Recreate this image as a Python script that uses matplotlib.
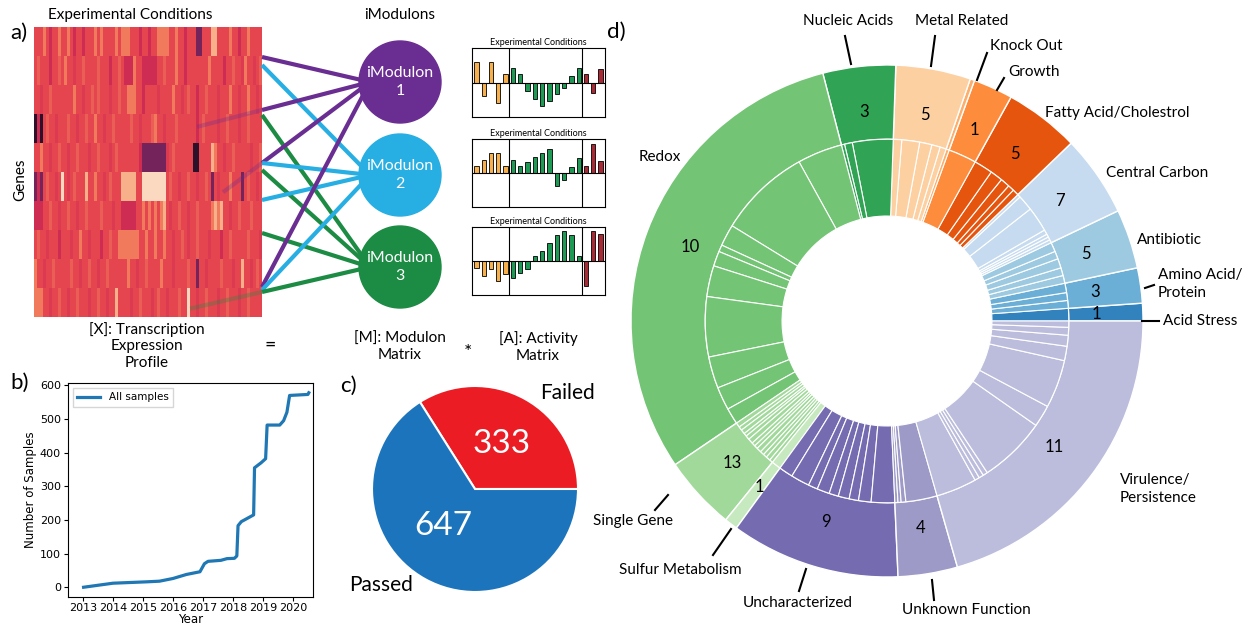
import numpy as np
import matplotlib
matplotlib.use('Agg')
import matplotlib.pyplot as plt
from matplotlib.colors import LinearSegmentedColormap
from matplotlib.patches import Circle

W, H = 1255, 627
plt.rcParams['font.family'] = ['Lato', 'DejaVu Sans']

# ---------------- data ----------------
# a) expression heatmap, one string per gene band, one char per condition column
heat_rows = [
    "rrrorcrror" + "rorcrrcrrr" + "ororrrroro" + "oorrrcrrcr" + "roooorrorr" + "crrrpprrrl" + "lrrrrorrcr" + "rorrrr",
    "rhrrrcrrhr" + "orrdrrhrrr" + "rhrrrcrrhr" + "cccorrcccc" + "crrhrrrorr" + "crrrrrrror" + "rrrcrrhrrd" + "orrdrh",
    "rrdrrhrrrr" + "rrrorrdrrh" + "rhrrrdrrhr" + "rooorrcrrr" + "rdrrrrorrd" + "rhrrcrrhrr" + "rdrrrorrdr" + "rorrdr",
    "kckrhrrdrr" + "rhrrdrrhrr" + "orrdrrhrrr" + "rrhrrdrrrh" + "orrdrrrhrr" + "rrrrcrhrrr" + "rdrrhrrrdr" + "rhrrrr",
    "rrorrdrrhr" + "rdrrhrrrdr" + "rhrrrdrhrr" + "rrrrrcpppp" + "ppppdrhrrr" + "rrrkkrrrrl" + "orrdrrhrrr" + "rrdrrh",
    "pcprhrrdrw" + "rdrhrrrlrr" + "orrdrhrrrl" + "llllrrwwww" + "wwwwrhrrdr" + "rhrrdrrhrp" + "rdrrrorrrp" + "rhrrdr",
    "cccrrhrrdr" + "rhrrdrrhrr" + "rrhrrrdrrc" + "ccccrroror" + "orolrdrrhr" + "rdrrhrrrro" + "lolrrdrrhr" + "rrhrrr",
    "rhrrdrrrcr" + "rrdrrorrdr" + "rrcrrhrroo" + "ooooorrorr" + "orrorrdrrh" + "rdrrhrrrdr" + "rrcrrhrrrr" + "rhrrrd",
    "orrdrrhrrr" + "rrhrrdrrhr" + "rdrrhrrrrr" + "rorrdrrhrr" + "rrorrrdrrr" + "rhrrprrdrr" + "rrhrrrdrrl" + "rrdrhr",
    "ooorrdrrhr" + "rdrrhrrrdr" + "rhrrdrrlrr" + "rrdrrhrrrd" + "rhrrdrrrhr" + "rwrrdrrhrr" + "rdrrhrrrdr" + "rhrrrr",
]
heat_levels = {'k': 0.02, 'p': 0.2, 'c': 0.42, 'd': 0.49, 'r': 0.55, 'h': 0.62, 'o': 0.7, 'l': 0.85, 'w': 0.97}

# a) gene -> iModulon links (y at heatmap edge, iModulon index, x where faint part starts)
links = [(57, 0, 262), (65, 1, 262), (110, 0, 197), (115, 2, 262), (163, 0, 223), (163, 1, 262),
         (170, 2, 262), (200, 1, 262), (233, 2, 262), (287, 0, 262), (290, 1, 262), (292, 2, 190)]
imod_names = ['iModulon\n1', 'iModulon\n2', 'iModulon\n3']

# a) activity matrix bars (5 / 10 / 3 conditions per group)
group_sizes = [5, 10, 3]
act_1 = [60, -40, 60, -60, 25, 45, 25, -25, -50, -70, -55, -35, -15, 20, 45, 25, -30, 40]
act_2 = [22, 40, 62, 62, 22, 40, 22, 35, 50, 62, 72, -40, -20, 20, 45, 22, 88, 38]
act_3 = [-20, -45, -25, -60, -40, -50, -35, -25, 15, 30, 55, 80, 92, 78, 15, -75, 92, 82]

# b) cumulative samples
years = [2013.02, 2014.0, 2015.1, 2015.55, 2016.0, 2016.45, 2016.9, 2017.05, 2017.17, 2017.6, 2017.8,
         2018.05, 2018.13, 2018.17, 2018.28, 2018.69, 2018.72, 2018.94, 2019.09, 2019.14, 2019.56,
         2019.69, 2019.8, 2019.89, 2020.5, 2020.53]
samples = [0, 12, 16, 18, 26, 38, 46, 70, 77, 80, 85, 86, 93, 183, 195, 215, 355, 370, 382, 482, 482,
           495, 520, 570, 573, 578]

# c) QC
qc_labels = ['Failed', 'Passed']
qc_counts = [333, 647]

# d) iModulon categories (counter-clockwise from 3 o'clock)
categories = ['Acid Stress', 'Amino Acid/\nProtein', 'Antibiotic', 'Central Carbon', 'Fatty Acid/Cholestrol',
              'Growth', 'Knock Out', 'Metal Related', 'Nucleic Acids', 'Redox', 'Single Gene',
              'Sulfur Metabolism', 'Uncharacterized', 'Unknown Function', 'Virulence/\nPersistence']
cat_counts = [1, 3, 5, 7, 5, 1, 1, 5, 3, 10, 13, 1, 9, 4, 11]
imod_sizes = [
    [4],
    [2.5, 2.5, 3],
    [2.5, 2.5, 3, 2.5, 3],
    [1, 1, 1, 1.5, 8, 5, 1],
    [2, 2, 3, 4, 6],
    [9],
    [1],
    [2, 2.7, 3.9, 5.7, 2.7],
    [13, 2.5, 1],
    [14.4, 29.5, 6.9, 2.2, 4.8, 9.9, 19.2, 10.1, 7.4, 5.2],
    [1.5, 1.2, 1.4, 1.0, 1.3, 1.6, 1.2, 1.1, 1.5, 1.3, 1.2, 1.4, 1.1],
    [3],
    [4.5, 6, 3, 4, 3, 3.5, 3, 4, 7.5],
    [1, 1, 1.5, 10],
    [13, 1.5, 1.5, 1.5, 21.5, 7, 15.4, 4.6, 3.5, 2.5, 2],
]


def rect(x0, y0, x1, y1):
    return [x0 / W, 1 - y1 / H, (x1 - x0) / W, (y1 - y0) / H]


fig = plt.figure(figsize=(W / 100, H / 100), dpi=100)

# overlay in pixel coords for schematic + labels
ov = fig.add_axes([0, 0, 1, 1], zorder=10)
ov.set_xlim(0, W)
ov.set_ylim(H, 0)
ov.axis('off')

# ---------------- a) ----------------
ax_h = fig.add_axes(rect(34, 27, 262, 317))
heat = np.array([[heat_levels[ch] for ch in row] for row in heat_rows])
heat_cmap = LinearSegmentedColormap.from_list('expr', [(0, '#241024'), (0.2, '#74245a'), (0.42, '#cf2d52'),
                                                      (0.55, '#e6464f'), (0.7, '#f27a5c'), (0.85, '#f7b08a'),
                                                      (1, '#fce3cd')])
ax_h.imshow(heat, aspect='auto', cmap=heat_cmap, vmin=0, vmax=1, interpolation='nearest')
ax_h.axis('off')

mod_cols = ['#6a2d91', '#27aee3', '#1c8b43']
mod_x, mod_r = 400, 41
mod_y = [82, 175, 267]
for y, m, sx in links:
    tx, ty = mod_x - 30, mod_y[m]
    slope = (ty - y) / (tx - 262)
    ov.plot([262, tx], [y, ty], color=mod_cols[m], lw=3, solid_capstyle='butt', zorder=2)
    if sx < 262:
        ov.plot([sx, 262], [y - slope * (262 - sx), y], color=mod_cols[m], lw=3, alpha=0.3,
                solid_capstyle='butt', zorder=2)
for m in range(3):
    ov.add_patch(Circle((mod_x, mod_y[m]), mod_r, color=mod_cols[m], zorder=3))
    ov.text(mod_x, mod_y[m], imod_names[m], color='white', ha='center', va='center', fontsize=11.5,
            linespacing=1.3, zorder=4)

ov.text(130, 15, 'Experimental Conditions', ha='center', va='center', fontsize=11)
ov.text(400, 15, 'iModulons', ha='center', va='center', fontsize=11)
ov.text(20, 180, 'Genes', ha='center', va='center', rotation=90, fontsize=11)
ov.text(10, 33, 'a)', ha='left', va='center', fontsize=16)
ov.text(147, 346, '[X]: Transcription\nExpression\nProfile', ha='center', va='center', fontsize=11,
        linespacing=1.2)
ov.text(270, 345, '=', ha='center', va='center', fontsize=14)
ov.text(400, 347, '[M]: Modulon\nMatrix', ha='center', va='center', fontsize=11, linespacing=1.2)
ov.text(468, 352, '*', ha='center', va='center', fontsize=14)
ov.text(538, 347, '[A]: Activity\nMatrix', ha='center', va='center', fontsize=11, linespacing=1.2)

grp_cols = ['#f7b04c', '#1f9a55', '#a82a35']
bar_cols = [c for c, n in zip(grp_cols, group_sizes) for _ in range(n)]
bounds = np.cumsum(group_sizes)[:-1] - 0.5
for vals, (y0, y1) in zip([act_1, act_2, act_3], [(48, 117), (139, 207), (227, 295)]):
    ab = fig.add_axes(rect(472, y0, 605, y1))
    ab.bar(np.arange(len(vals)), vals, width=0.6, color=bar_cols, edgecolor='black', linewidth=0.6)
    ab.axhline(0, color='black', lw=0.8)
    for b in bounds:
        ab.axvline(b, color='black', lw=0.8)
    ab.set_xlim(-0.6, len(vals) - 0.4)
    ab.set_ylim(-102, 103)
    ab.set_xticks([])
    ab.set_yticks([])
    for s in ab.spines.values():
        s.set_linewidth(0.8)
    ab.set_title('Experimental Conditions', fontsize=6.5, pad=2)

# ---------------- b) ----------------
ax_b = fig.add_axes(rect(68, 383, 313, 597))
ax_b.plot(years, samples, color='#1f77b4', lw=2.3, label='All samples')
ax_b.set_xlim(2012.5, 2020.67)
ax_b.set_ylim(-29, 607)
ax_b.set_xticks(range(2013, 2021))
ax_b.set_yticks(range(0, 601, 100))
ax_b.tick_params(labelsize=8, labelfontfamily='DejaVu Sans', length=3, pad=2)
ax_b.tick_params(axis='x', pad=1.5)
ax_b.set_xlabel('Year', family='DejaVu Sans', fontsize=8.5, labelpad=0)
ax_b.set_ylabel('Number of Samples', family='DejaVu Sans', fontsize=8.5, labelpad=2)
ax_b.legend(loc='upper left', prop={'family': 'DejaVu Sans', 'size': 7.5}, handlelength=2.2,
            borderpad=0.4, fancybox=False)
ov.text(10, 383, 'b)', ha='left', va='center', fontsize=16)

# ---------------- c) ----------------
pc_x, pc_y, pc_r = 475, 489, 103
ax_c = fig.add_axes(rect(pc_x - pc_r, pc_y - pc_r, pc_x + pc_r, pc_y + pc_r))
ax_c.pie(qc_counts, colors=['#ec1c24', '#1c75bc'], startangle=0, counterclock=True,
         wedgeprops=dict(edgecolor='white', linewidth=1.5))
ax_c.set_xlim(-1, 1)
ax_c.set_ylim(-1, 1)
ax_c.text(0.26, 0.44, str(qc_counts[0]), color='white', ha='center', va='center', fontsize=24)
ax_c.text(-0.31, -0.36, str(qc_counts[1]), color='white', ha='center', va='center', fontsize=24)
ov.text(567, 393, qc_labels[0], ha='center', va='center', fontsize=15)
ov.text(381, 585, qc_labels[1], ha='center', va='center', fontsize=15)
ov.text(340, 386, 'c)', ha='left', va='center', fontsize=16)

# ---------------- d) ----------------
dc_x, dc_y, dc_r = 887, 321, 256
ax_d = fig.add_axes(rect(dc_x - dc_r, dc_y - dc_r, dc_x + dc_r, dc_y + dc_r))
cat_cols = plt.cm.tab20c(np.arange(len(categories)))
outer_vals = [sum(s) for s in imod_sizes]
inner_vals = [v for s in imod_sizes for v in s]
inner_cols = [cat_cols[i] for i, s in enumerate(imod_sizes) for _ in s]
ax_d.pie(outer_vals, radius=1, colors=cat_cols, startangle=0, counterclock=True,
         wedgeprops=dict(width=0.29, edgecolor='white', linewidth=1))
ax_d.pie(inner_vals, radius=0.71, colors=inner_cols, startangle=0, counterclock=True,
         wedgeprops=dict(width=0.30, edgecolor='white', linewidth=0.8))
ax_d.set_xlim(-1, 1)
ax_d.set_ylim(-1, 1)
tot = sum(outer_vals)
start = 0
for v, n in zip(outer_vals, cat_counts):
    ang = np.deg2rad((start + v / 2) / tot * 360)
    if v / tot * 360 >= 2:
        ax_d.text(0.82 * np.cos(ang), 0.82 * np.sin(ang), str(n), ha='center', va='center', fontsize=12)
    start += v

# category labels: (text position, alignment, leader line)
cat_label_pos = {
    'Acid Stress': (1163, 321, 'left', [(1142, 321), (1159, 321)]),
    'Amino Acid/\nProtein': (1158, 284, 'left', [(1145, 288), (1154, 285)]),
    'Antibiotic': (1137, 240, 'left', None),
    'Central Carbon': (1106, 173, 'left', None),
    'Fatty Acid/Cholestrol': (1045, 113, 'left', None),
    'Growth': (1008, 72, 'left', [(1004, 78), (997, 90)]),
    'Knock Out': (990, 46, 'left', [(987, 53), (977, 80)]),
    'Metal Related': (962, 21, 'center', [(935, 36), (931, 66)]),
    'Nucleic Acids': (848, 21, 'center', [(845, 36), (851, 64)]),
    'Redox': (660, 157, 'center', None),
    'Single Gene': (633, 521, 'center', [(668, 495), (655, 510)]),
    'Sulfur Metabolism': (680, 570, 'center', [(731, 529), (713, 555)]),
    'Uncharacterized': (798, 603, 'center', [(806, 569), (799, 591)]),
    'Unknown Function': (966, 610, 'center', [(932, 580), (934, 600)]),
    'Virulence/\nPersistence': (1120, 489, 'left', None),
}
for name in categories:
    x, y, ha, lead = cat_label_pos[name]
    ov.text(x, y, name, ha=ha, va='center', fontsize=11, linespacing=1.3)
    if lead:
        ov.plot([lead[0][0], lead[1][0]], [lead[0][1], lead[1][1]], color='black', lw=1.5)
ov.text(607, 32, 'd)', ha='left', va='center', fontsize=16)

fig.savefig('out.png', dpi=100)
